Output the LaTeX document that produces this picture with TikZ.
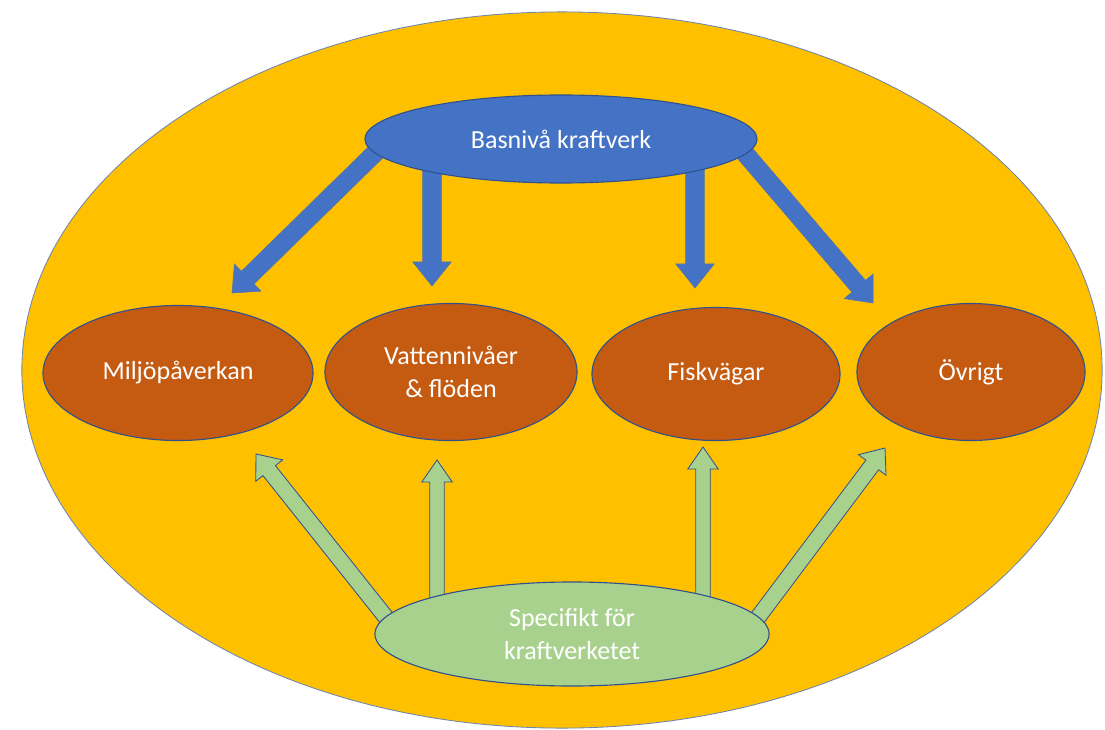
\documentclass[tikz,border=0pt]{standalone}
\usepackage{fontspec}
\setmainfont{Carlito}
\usepackage{xcolor}
\usepackage{tikz}
\usetikzlibrary{calc,shapes.geometric}
\tikzset{font={\fontsize{18.5pt}{23.5pt}\selectfont}}
\definecolor{fieldorange}{HTML}{FFC000}
\definecolor{basblue}{HTML}{4472C4}
\definecolor{edgeblue}{HTML}{2F528F}
\definecolor{topicbrown}{HTML}{C55A11}
\definecolor{specgreen}{HTML}{A9D18E}
\pgfdeclarelayer{back}
\pgfdeclarelayer{arrows}
\pgfsetlayers{back,arrows,main}
% block arrow: [style]{tail}{tip}{half shaft}{half head}{head length}
\newcommand{\blockarrow}[6][]{%
  \coordinate (hb) at ($(#3)!#6!(#2)$);
  \filldraw[#1] ($(#2)!#4!90:(#3)$) -- ($(hb)!#4!90:(#3)$) -- ($(hb)!#5!90:(#3)$)
    -- (#3) -- ($(hb)!#5!-90:(#3)$) -- ($(hb)!#4!-90:(#3)$) -- ($(#2)!#4!-90:(#3)$) -- cycle;}

\begin{document}
\begin{tikzpicture}[x=0.025cm,y=-0.025cm,
blob/.style={ellipse,draw=edgeblue,line width=0.8pt,inner sep=0pt,text=white,align=center},
topic/.style={blob,fill=topicbrown},
downarrow/.style={fill=basblue,draw=edgeblue!80,line width=0.4pt},
uparrow/.style={fill=specgreen,draw=edgeblue,line width=0.6pt}
]
\useasboundingbox (0,0) rectangle (1105,730);

\begin{pgfonlayer}{back}
\node[ellipse,fill=fieldorange,draw=edgeblue!70,line width=0.6pt,minimum width=27cm,minimum height=17.9cm] (field) at (562,370) {};
\end{pgfonlayer}

\node[blob,fill=basblue,minimum width=9.8cm,minimum height=2.2cm] (basis) at (561,139) {Basnivå kraftverk};
\node[topic,minimum width=6.75cm,minimum height=3.375cm] (milj) at (178,373) {Miljöpåverkan};
\node[topic,minimum width=6.3cm,minimum height=3.425cm] (vatten) at (451,372) {Vattennivåer\\\& flöden};
\node[topic,minimum width=6.2cm,minimum height=3.325cm] (fisk) at (716,374) {Fiskvägar};
\node[topic,minimum width=5.7cm,minimum height=3.425cm] (ovrigt) at (971,372) {Övrigt};
\node[blob,fill=specgreen,minimum width=9.85cm,minimum height=2.6cm] (spec) at (572,634) {Specifikt för\\kraftverketet};

% tails under the ellipses, tips next to the topics
\coordinate (b-milj) at ([shift={(-183,11)}]basis.center);
\coordinate (b-vatten) at ([shift={(-129,26)}]basis.center);
\coordinate (b-fisk) at ([shift={(134,26)}]basis.center);
\coordinate (b-ovrigt) at ([shift={(182,12)}]basis.center);
\coordinate (milj-top) at ([shift={(54,-80)}]milj.center);
\coordinate (vatten-top) at ([shift={(-19,-86)}]vatten.center);
\coordinate (fisk-top) at ([shift={(-21,-86)}]fisk.center);
\coordinate (ovrigt-top) at ([shift={(-98,-69)}]ovrigt.center);

\coordinate (s-milj) at ([shift={(-176,-4)}]spec.center);
\coordinate (s-vatten) at ([shift={(-135,-24)}]spec.center);
\coordinate (s-fisk) at ([shift={(131,-24)}]spec.center);
\coordinate (s-ovrigt) at ([shift={(178,-6)}]spec.center);
\coordinate (milj-bot) at ([shift={(78,81)}]milj.center);
\coordinate (vatten-bot) at ([shift={(-14,88)}]vatten.center);
\coordinate (fisk-bot) at ([shift={(-13,73)}]fisk.center);
\coordinate (ovrigt-bot) at ([shift={(-86,76)}]ovrigt.center);

\begin{pgfonlayer}{arrows}
\blockarrow[downarrow]{b-milj}{milj-top}{0.225cm}{0.475cm}{0.55cm}
\blockarrow[downarrow]{b-vatten}{vatten-top}{0.235cm}{0.48cm}{0.6cm}
\blockarrow[downarrow]{b-fisk}{fisk-top}{0.235cm}{0.48cm}{0.6cm}
\blockarrow[downarrow]{b-ovrigt}{ovrigt-top}{0.225cm}{0.475cm}{0.55cm}
\blockarrow[uparrow]{s-milj}{milj-bot}{0.2cm}{0.43cm}{0.53cm}
\blockarrow[uparrow]{s-vatten}{vatten-bot}{0.18cm}{0.38cm}{0.55cm}
\blockarrow[uparrow]{s-fisk}{fisk-bot}{0.18cm}{0.38cm}{0.55cm}
\blockarrow[uparrow]{s-ovrigt}{ovrigt-bot}{0.2cm}{0.43cm}{0.53cm}
\end{pgfonlayer}
\end{tikzpicture}
\end{document}
